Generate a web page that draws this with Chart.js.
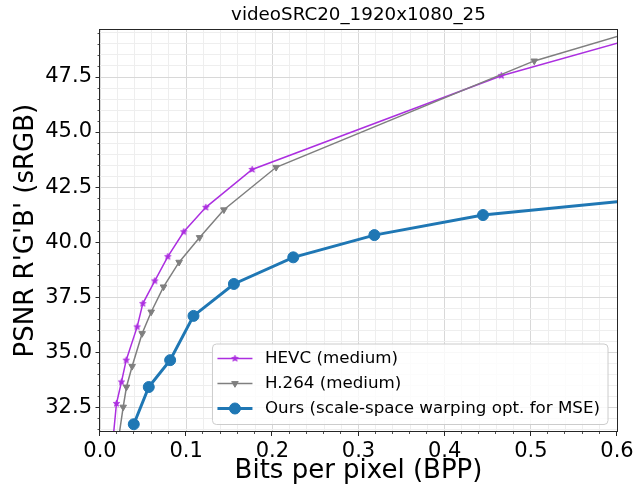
<!DOCTYPE html>
<html>
<head>
<meta charset="utf-8">
<script src="https://cdn.jsdelivr.net/npm/chart.js@4.4.1/dist/chart.umd.min.js"></script>
<style>
  html, body { margin: 0; padding: 0; background: #ffffff; }
  canvas { display: block; }
</style>
</head>
<body>
<canvas id="rd" width="635" height="491"></canvas>
<script>
// Rate-distortion curves: PSNR against bits per pixel for three codecs.
const chartTitle = 'videoSRC20_1920x1080_25';
const xAxisTitle = 'Bits per pixel (BPP)';
const yAxisTitle = "PSNR R'G'B' (sRGB)";
const seriesNames = ['HEVC (medium)', 'H.264 (medium)', 'Ours (scale-space warping opt. for MSE)'];

const hevcBpp  = [0.0145, 0.0191, 0.0249, 0.0304, 0.0431, 0.0497, 0.0636, 0.0787, 0.0972, 0.1228, 0.1766, 0.4658, 0.75];
const hevcPsnr = [30.80, 32.67, 33.65, 34.64, 36.15, 37.21, 38.24, 39.34, 40.47, 41.58, 43.30, 47.56, 50.67];

const h264Bpp  = [0.0220, 0.0269, 0.0307, 0.0373, 0.0489, 0.0594, 0.0737, 0.0918, 0.1156, 0.1438, 0.2044, 0.5040, 0.75];
const h264Psnr = [31.20, 32.51, 33.42, 34.36, 35.85, 36.83, 37.97, 39.09, 40.21, 41.47, 43.40, 48.23, 51.07];

const oursBpp  = [0.0392, 0.0566, 0.0814, 0.1085, 0.1554, 0.2243, 0.3184, 0.4445, 0.62];
const oursPsnr = [31.73, 33.42, 34.64, 36.65, 38.10, 39.31, 40.32, 41.23, 41.91];

const xTickLabels = ['0.0', '0.1', '0.2', '0.3', '0.4', '0.5', '0.6'];
const yTickLabels = ['32.5', '35.0', '37.5', '40.0', '42.5', '45.0', '47.5'];

const FONT = "'DejaVu Sans', 'Liberation Sans', sans-serif";
const INK = '#000000';
const SPINE = '#262626';
const GRID_MAJOR = '#d8d8d8';
const GRID_MINOR = '#eeeeee';
const C_HEVC = '#ac2fe0';
const C_H264 = '#7f7f7f';
const C_OURS = '#1f77b4';

function labelFor(list, v) {
  const s = v.toFixed(1);
  return (list.includes(s) && Math.abs(v - parseFloat(s)) < 1e-6) ? s : '';
}

function toPoints(xs, ys) {
  return xs.map((x, i) => ({ x: x, y: ys[i] }));
}

// Filled five-point star used as the HEVC marker.
function starMarker(r, color) {
  const c = document.createElement('canvas');
  const s = Math.ceil(r * 2 + 2);
  c.width = s; c.height = s;
  const g = c.getContext('2d');
  g.translate(s / 2, s / 2);
  g.beginPath();
  for (let i = 0; i < 10; i++) {
    const rad = i % 2 === 0 ? r : r * 0.42;
    const a = -Math.PI / 2 + i * Math.PI / 5;
    g.lineTo(rad * Math.cos(a), rad * Math.sin(a));
  }
  g.closePath();
  g.fillStyle = color; g.fill();
  g.lineWidth = 0.8; g.strokeStyle = color; g.stroke();
  return c;
}
const hevcStar = starMarker(3.4, C_HEVC);

// Outward tick marks, longer on labelled values.
const tickMarks = {
  id: 'tickMarks',
  afterDraw(chart) {
    const { ctx, chartArea: a } = chart;
    ctx.save();
    ctx.strokeStyle = SPINE;
    chart.scales.x.ticks.forEach(t => {
      const major = labelFor(xTickLabels, t.value) !== '';
      const px = Math.round(chart.scales.x.getPixelForValue(t.value)) - 0.5;
      ctx.lineWidth = major ? 1 : 0.8;
      ctx.beginPath(); ctx.moveTo(px, a.bottom); ctx.lineTo(px, a.bottom + (major ? 4.5 : 2.5)); ctx.stroke();
    });
    chart.scales.y.ticks.forEach(t => {
      const major = labelFor(yTickLabels, t.value) !== '';
      const py = Math.round(chart.scales.y.getPixelForValue(t.value)) + 0.5;
      ctx.lineWidth = major ? 1 : 0.8;
      ctx.beginPath(); ctx.moveTo(a.left, py); ctx.lineTo(a.left - (major ? 4.5 : 2.5), py); ctx.stroke();
    });
    ctx.restore();
  }
};

// Four-sided axes frame drawn over the curves.
const axesFrame = {
  id: 'axesFrame',
  afterDatasetsDraw(chart) {
    const { ctx, chartArea: a } = chart;
    const l = Math.floor(a.left) - 0.5, r = Math.floor(a.right) + 0.5;
    const t = Math.floor(a.top) + 0.5, b = Math.floor(a.bottom) + 0.5;
    ctx.save();
    ctx.strokeStyle = SPINE; ctx.lineWidth = 1;
    ctx.strokeRect(l, t, r - l, b - t);
    ctx.restore();
  }
};

// Boxed legend in the lower right corner of the plot.
const boxLegend = {
  id: 'boxLegend',
  afterDraw(chart) {
    const { ctx, chartArea: a } = chart;
    const font = '16.7px ' + FONT;
    ctx.save();
    ctx.font = font;
    const textW = Math.max(...seriesNames.map(s => ctx.measureText(s).width));
    const right = a.right - 9;
    const bottom = a.bottom - 7;
    const rowGap = 25;
    const lastRow = bottom - 16;
    const firstRow = lastRow - rowGap * (seriesNames.length - 1);
    const top = firstRow - 14.5;
    const left = right - (5 + 35 + 12.5 + textW + 8);
    const rr = 4;
    ctx.beginPath();
    ctx.moveTo(left + rr, top);
    ctx.arcTo(right, top, right, bottom, rr);
    ctx.arcTo(right, bottom, left, bottom, rr);
    ctx.arcTo(left, bottom, left, top, rr);
    ctx.arcTo(left, top, right, top, rr);
    ctx.closePath();
    ctx.fillStyle = 'rgba(255,255,255,0.82)';
    ctx.fill();
    ctx.strokeStyle = '#cccccc'; ctx.lineWidth = 1;
    ctx.stroke();

    chart.data.datasets.forEach((ds, i) => {
      const y = firstRow + i * rowGap;
      const x0 = left + 5, x1 = x0 + 35, xm = (x0 + x1) / 2;
      ctx.strokeStyle = ds.borderColor; ctx.lineWidth = ds.borderWidth;
      ctx.beginPath(); ctx.moveTo(x0, y); ctx.lineTo(x1, y); ctx.stroke();
      ctx.fillStyle = ds.pointBackgroundColor;
      ctx.strokeStyle = ds.pointBorderColor;
      ctx.lineWidth = ds.pointBorderWidth;
      Chart.helpers.drawPoint(ctx, {
        pointStyle: ds.pointStyle, rotation: ds.pointRotation || 0,
        radius: ds.pointRadius, borderWidth: ds.pointBorderWidth
      }, xm, y);
      ctx.fillStyle = INK;
      ctx.font = font;
      ctx.textBaseline = 'middle';
      ctx.textAlign = 'left';
      ctx.fillText(ds.label, x1 + 12.5, y + 0.5);
    });
    ctx.restore();
  }
};

const datasets = [
  {
    label: seriesNames[0], data: toPoints(hevcBpp, hevcPsnr), order: 2,
    showLine: true, borderColor: C_HEVC, borderWidth: 1.5,
    pointStyle: hevcStar, pointRadius: 4, pointBorderWidth: 0.8,
    pointBackgroundColor: C_HEVC, pointBorderColor: C_HEVC, clip: 0
  },
  {
    label: seriesNames[1], data: toPoints(h264Bpp, h264Psnr), order: 1,
    showLine: true, borderColor: C_H264, borderWidth: 1.5,
    pointStyle: 'triangle', pointRotation: 180, pointRadius: 3.8, pointBorderWidth: 1,
    pointBackgroundColor: C_H264, pointBorderColor: C_H264, clip: 0
  },
  {
    label: seriesNames[2], data: toPoints(oursBpp, oursPsnr), order: 0,
    showLine: true, borderColor: C_OURS, borderWidth: 3,
    pointStyle: 'circle', pointRadius: 5.5, pointBorderWidth: 1,
    pointBackgroundColor: C_OURS, pointBorderColor: C_OURS, clip: 0
  }
];

new Chart(document.getElementById('rd'), {
  type: 'scatter',
  data: { datasets: datasets },
  plugins: [axesFrame, tickMarks, boxLegend],
  options: {
    responsive: false,
    animation: false,
    events: [],
    layout: { padding: { left: 0, right: 18, top: 0, bottom: 0 } },
    elements: { line: { tension: 0 } },
    plugins: {
      legend: { display: false },
      tooltip: { enabled: false },
      title: {
        display: true, text: chartTitle, fullSize: false, color: INK,
        font: { family: FONT, size: 18.3, weight: 'normal' },
        padding: { top: 4.4, bottom: 3.3 }
      }
    },
    scales: {
      x: {
        type: 'linear', min: 0, max: 0.6,
        border: { display: false },
        grid: {
          drawTicks: false, lineWidth: 1,
          color: c => labelFor(xTickLabels, c.tick.value) ? GRID_MAJOR : GRID_MINOR
        },
        ticks: {
          stepSize: 0.02, maxTicksLimit: 1000, autoSkip: false, maxRotation: 0,
          includeBounds: false, padding: 7, color: INK,
          font: { family: FONT, size: 21 },
          callback: v => labelFor(xTickLabels, v)
        },
        title: {
          display: true, text: xAxisTitle, color: INK,
          font: { family: FONT, size: 26 }, padding: { top: 0, bottom: 4 }
        },
        afterFit: s => { s.height = 59.5; s.paddingLeft = 0; s.paddingRight = 0; }
      },
      y: {
        type: 'linear', min: 31.40, max: 49.65,
        border: { display: false },
        grid: {
          drawTicks: false, lineWidth: 1,
          color: c => labelFor(yTickLabels, c.tick.value) ? GRID_MAJOR : GRID_MINOR
        },
        ticks: {
          stepSize: 0.5, maxTicksLimit: 1000, autoSkip: false,
          includeBounds: false, padding: 8, color: INK,
          font: { family: FONT, size: 21 },
          callback: v => labelFor(yTickLabels, v)
        },
        title: {
          display: true, text: yAxisTitle, color: INK,
          font: { family: FONT, size: 26 }, padding: { top: 11, bottom: 0 }
        },
        afterFit: s => { s.width = 100; }
      }
    }
  }
});
</script>
</body>
</html>
